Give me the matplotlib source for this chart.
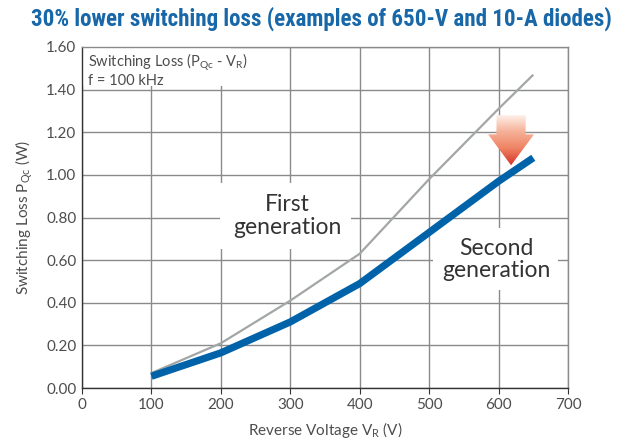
import numpy as np
import matplotlib
matplotlib.use("Agg")
import matplotlib.pyplot as plt
from matplotlib import font_manager
from matplotlib.patches import Polygon, Rectangle
from matplotlib.colors import LinearSegmentedColormap

# Switching loss vs reverse voltage (650-V / 10-A SiC SBD)
voltage = [100, 200, 300, 400, 500, 600, 650]
first_gen = [0.07, 0.21, 0.41, 0.63, 0.98, 1.31, 1.47]
second_gen = [0.055, 0.165, 0.31, 0.49, 0.73, 0.97, 1.08]

x_ticks = [0, 100, 200, 300, 400, 500, 600, 700]
y_ticks = [0.0, 0.2, 0.4, 0.6, 0.8, 1.0, 1.2, 1.4, 1.6]

title = "30% lower switching loss (examples of 650-V and 10-A diodes)"

plt.rcParams['font.family'] = ['Lato', 'DejaVu Sans']
text_color = '#4d4d4d'
grid_color = '#8a8a8a'
blue = '#0063a9'
gray = '#a3a6a6'

fig = plt.figure(figsize=(6.32, 4.43), dpi=100)
ax = fig.add_axes([82 / 632, 55 / 443, 486 / 632, 341 / 443])

ax.set_xlim(0, 700)
ax.set_ylim(0, 1.6)
ax.set_xticks(x_ticks)
ax.set_yticks(y_ticks)
ax.set_yticklabels([f"{v:.2f}" for v in y_ticks])
ax.tick_params(axis='both', labelsize=11, colors='#333333', length=4,
               width=0.8, labelcolor=text_color, pad=3)
ax.tick_params(axis='y', length=0, pad=4)

ax.grid(True, color=grid_color, linewidth=1.0, zorder=0)
ax.set_axisbelow(True)
for side in ['top', 'right']:
    ax.spines[side].set_color(grid_color)
    ax.spines[side].set_linewidth(1.0)
for side in ['left', 'bottom']:
    ax.spines[side].set_color('#333333')
    ax.spines[side].set_linewidth(1.0)

# white backing behind the condition note and the series labels
ax.add_patch(Rectangle((0, 1.415), 215, 0.185, facecolor='white',
                       edgecolor='none', zorder=1))
ax.add_patch(Rectangle((199, 0.65), 188, 0.31, facecolor='white',
                       edgecolor='none', zorder=1))
ax.add_patch(Rectangle((506, 0.46), 180, 0.29, facecolor='white',
                       edgecolor='none', zorder=1))

ax.plot(voltage, first_gen, color=gray, linewidth=1.6, zorder=3,
        solid_capstyle='butt')
ax.plot(voltage, second_gen, color=blue, linewidth=5.2, zorder=4,
        solid_capstyle='butt', solid_joinstyle='round')

ax.text(9, 1.494,
        "Switching Loss (P$_\\mathregular{Qc}$ - V$_\\mathregular{R}$)\nf = 100 kHz",
        fontsize=10.5, color=text_color, va='center', ha='left',
        linespacing=1.05, zorder=5)

ax.text(296, 0.806, "First\ngeneration", fontsize=16.5, color='#333333',
        ha='center', va='center', linespacing=1.1, zorder=5)
ax.text(597, 0.603, "Second\ngeneration", fontsize=16.5, color='#333333',
        ha='center', va='center', linespacing=1.1, zorder=5)

# downward gradient arrow: pale at the top, red at the tip
cx, top, base, tip = 618, 1.28, 1.19, 1.045
sw, hw = 21, 33
arrow_pts = [(cx - sw, top), (cx + sw, top), (cx + sw, base), (cx + hw, base),
             (cx, tip), (cx - hw, base), (cx - sw, base)]
arrow = Polygon(arrow_pts, closed=True, facecolor='none', edgecolor='none',
                transform=ax.transData)
ax.add_patch(arrow)
cmap = LinearSegmentedColormap.from_list(
    'arrow', ['#fef4ef', '#f6b39a', '#ee8464', '#d8322a'])
grad = np.linspace(1, 0, 256).reshape(-1, 1)
img = ax.imshow(grad, cmap=cmap, aspect='auto', vmin=0, vmax=1,
                extent=(cx - hw, cx + hw, tip, top), origin='lower', zorder=6)
img.set_clip_path(arrow)
ax.set_xlim(0, 700)
ax.set_ylim(0, 1.6)

ax.set_xlabel("Reverse Voltage V$_\\mathregular{R}$ (V)", fontsize=11,
              color=text_color, labelpad=6)
ax.set_ylabel("Switching Loss P$_\\mathregular{Qc}$ (W)", fontsize=11,
              color=text_color, labelpad=8)

# condensed bold heading, sized to span the chart width
available = {f.name for f in font_manager.fontManager.ttflist}
title_family = next((f for f in ['Liberation Sans Narrow', 'DejaVu Sans Condensed',
                                 'Roboto Condensed', 'Open Sans Condensed', 'Roboto']
                     if f in available), 'DejaVu Sans')
title_text = fig.text(0.508, 0.958, title, fontsize=14, fontweight='bold',
                      color='#1767a9', ha='center', va='center',
                      family=[title_family, 'DejaVu Sans'])
renderer = fig.canvas.get_renderer()
w = title_text.get_window_extent(renderer).width
title_text.set_fontsize(14 * 582 / w)

fig.savefig("out.png", dpi=100)
